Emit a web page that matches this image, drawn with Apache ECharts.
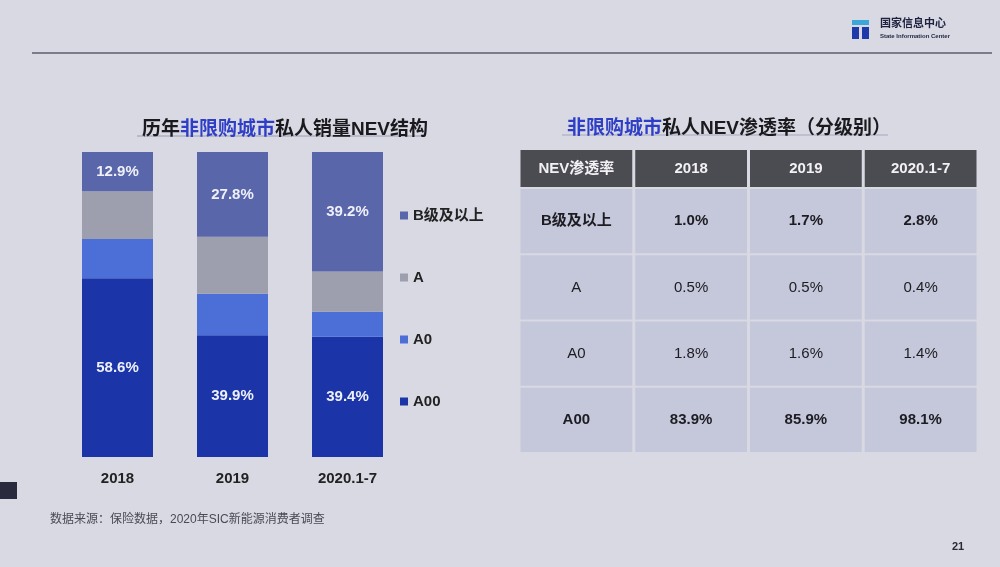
<!DOCTYPE html>
<html>
<head>
<meta charset="utf-8">
<script src="https://cdn.jsdelivr.net/npm/echarts@6/dist/echarts.min.js"></script>
<style>
html,body{margin:0;padding:0;background:#d8d9e3;}
#c{width:1000px;height:567px;}
</style>
</head>
<body>
<div id="c"></div>
<script>
// ---- data ----
const categories = ['2018', '2019', '2020.1-7'];
const seriesNames = ['B级及以上', 'A', 'A0', 'A00'];
const shareA00 = [58.6, 39.9, 39.4];
const shareA0 = [12.9, 13.6, 8.2];
const shareA = [15.6, 18.7, 13.2];
const shareB = [12.9, 27.8, 39.2];

const tableHead = ['NEV渗透率', '2018', '2019', '2020.1-7'];
const tableRows = ['B级及以上', 'A', 'A0', 'A00'];
const penB = [1.0, 1.7, 2.8];
const penA = [0.5, 0.5, 0.4];
const penA0 = [1.8, 1.6, 1.4];
const penA00 = [83.9, 85.9, 98.1];

const FONT = "'Liberation Sans','Noto Sans CJK SC',sans-serif";
const penRows = [penB, penA, penA0, penA00];
const boldRows = [true, false, false, true];

// ---- table cells ----
const headData = tableHead.map((t, i) => [i, 0]);
const bodyData = [];
tableRows.forEach((r, ri) => {
  for (let c = 0; c < 4; c++) bodyData.push([c, ri]);
});

function cellRender(isHead) {
  return function (params, api) {
    const c = api.value(0), r = api.value(1);
    const pt = api.coord([c, r]);
    const sz = api.size([1, 1]);
    let text, color, fill, weight;
    if (isHead) {
      text = tableHead[c];
      color = '#f2f2f4';
      fill = '#4b4b52';
      weight = 'bold';
    } else {
      text = c === 0 ? tableRows[r] : penRows[r][c - 1].toFixed(1) + '%';
      color = '#1c1c22';
      fill = '#c5c7da';
      weight = boldRows[r] ? 'bold' : 'normal';
    }
    return {
      type: 'group',
      children: [
        {
          type: 'rect',
          shape: { x: pt[0] - sz[0] / 2 + 1.5, y: pt[1] - sz[1] / 2 + 1, width: sz[0] - 3, height: sz[1] - 2 },
          style: { fill: fill }
        },
        {
          type: 'text',
          x: pt[0], y: pt[1],
          style: {
            text: text, fill: color, font: weight + ' 15px ' + FONT,
            align: 'center', verticalAlign: 'middle'
          }
        }
      ]
    };
  };
}

const barColors = { 'A00': '#1b35a9', 'A0': '#4b6fd6', 'A': '#9d9fae', 'B级及以上': '#5a66aa' };
const labelStyle = { show: true, position: 'inside', color: '#eef0fa', fontSize: 15, fontWeight: 'bold', fontFamily: FONT, formatter: p => p.value.toFixed(1) + '%' };

const chart = echarts.init(document.getElementById('c'));
chart.setOption({
  backgroundColor: '#d8d9e3',
  animation: false,
  title: [
    {
      text: '历年{b|非限购城市}私人销量NEV结构',
      left: 280, top: 115, textAlign: 'center',
      textStyle: { fontSize: 19, fontWeight: 'bold', color: '#1a1a1e', fontFamily: FONT,
        rich: { b: { fontSize: 19, fontWeight: 'bold', color: '#2e3ec6', fontFamily: FONT } } }
    },
    {
      text: '{b|非限购城市}私人NEV渗透率（分级别）',
      left: 724, top: 114, textAlign: 'center',
      textStyle: { fontSize: 19, fontWeight: 'bold', color: '#1a1a1e', fontFamily: FONT,
        rich: { b: { fontSize: 19, fontWeight: 'bold', color: '#2e3ec6', fontFamily: FONT } } }
    }
  ],
  legend: {
    data: ['B级及以上', 'A', 'A0', 'A00'],
    orient: 'vertical', left: 400, top: 208, padding: 0,
    icon: 'rect', itemWidth: 8, itemHeight: 8, itemGap: 47,
    textStyle: { fontSize: 15, fontWeight: 'bold', color: '#222', fontFamily: FONT }
  },
  grid: [
    { left: 60, top: 152, width: 345, height: 305 },
    { left: 519, top: 149, width: 459, height: 39 },
    { left: 519, top: 188, width: 459, height: 265 }
  ],
  xAxis: [
    { type: 'category', gridIndex: 0, data: categories,
      axisLine: { show: false }, axisTick: { show: false },
      axisLabel: { margin: 14, fontSize: 15, fontWeight: 'bold', color: '#222', fontFamily: FONT } },
    { type: 'category', gridIndex: 1, data: tableHead, show: false },
    { type: 'category', gridIndex: 2, data: tableHead, show: false }
  ],
  yAxis: [
    { type: 'value', gridIndex: 0, min: 0, max: 100, show: false },
    { type: 'category', gridIndex: 1, data: ['h'], show: false },
    { type: 'category', gridIndex: 2, data: tableRows, inverse: true, show: false }
  ],
  series: [
    { name: 'A00', type: 'bar', stack: 's', data: shareA00, barWidth: 71, itemStyle: { color: barColors['A00'] }, label: labelStyle },
    { name: 'A0', type: 'bar', stack: 's', data: shareA0, barWidth: 71, itemStyle: { color: barColors['A0'] } },
    { name: 'A', type: 'bar', stack: 's', data: shareA, barWidth: 71, itemStyle: { color: barColors['A'] } },
    { name: 'B级及以上', type: 'bar', stack: 's', data: shareB, barWidth: 71, itemStyle: { color: barColors['B级及以上'] }, label: labelStyle },
    { type: 'custom', xAxisIndex: 1, yAxisIndex: 1, data: headData, renderItem: cellRender(true), silent: true },
    { type: 'custom', xAxisIndex: 2, yAxisIndex: 2, data: bodyData, renderItem: cellRender(false), silent: true }
  ],
  graphic: [
    { type: 'line', shape: { x1: 32, y1: 53, x2: 992, y2: 53 }, style: { stroke: '#7a7c8a', lineWidth: 2 } },
    { type: 'line', shape: { x1: 137, y1: 136, x2: 423, y2: 136 }, style: { stroke: '#9a9cb0', lineWidth: 1 } },
    { type: 'line', shape: { x1: 562, y1: 135, x2: 888, y2: 135 }, style: { stroke: '#a4a6c0', lineWidth: 1 } },
    // logo
    { type: 'rect', shape: { x: 852, y: 20, width: 17, height: 19 }, style: { fill: '#1d3aa8' } },
    { type: 'rect', shape: { x: 852, y: 20, width: 17, height: 5 }, style: { fill: '#3aa7d8' } },
    { type: 'rect', shape: { x: 859, y: 25, width: 3, height: 14 }, style: { fill: '#d8d9e3' } },
    { type: 'rect', shape: { x: 852, y: 25, width: 17, height: 2 }, style: { fill: '#d8d9e3' } },
    { type: 'text', x: 880, y: 18, style: { text: '国家信息中心', font: 'bold 11px ' + FONT, fill: '#1e2240' } },
    { type: 'text', x: 880, y: 33, style: { text: 'State Information Center', font: 'bold 6px ' + FONT, fill: '#1e2240' } },
    // footer
    { type: 'text', x: 50, y: 514, style: { text: '数据来源：保险数据，2020年SIC新能源消费者调查', font: '12px ' + FONT, fill: '#4a4a52' } },
    { type: 'text', x: 952, y: 541, style: { text: '21', font: 'bold 11px ' + FONT, fill: '#2a2a30' } },
    { type: 'rect', shape: { x: 0, y: 482, width: 17, height: 17 }, style: { fill: '#2a2a3e' } }
  ]
});
</script>
</body>
</html>
